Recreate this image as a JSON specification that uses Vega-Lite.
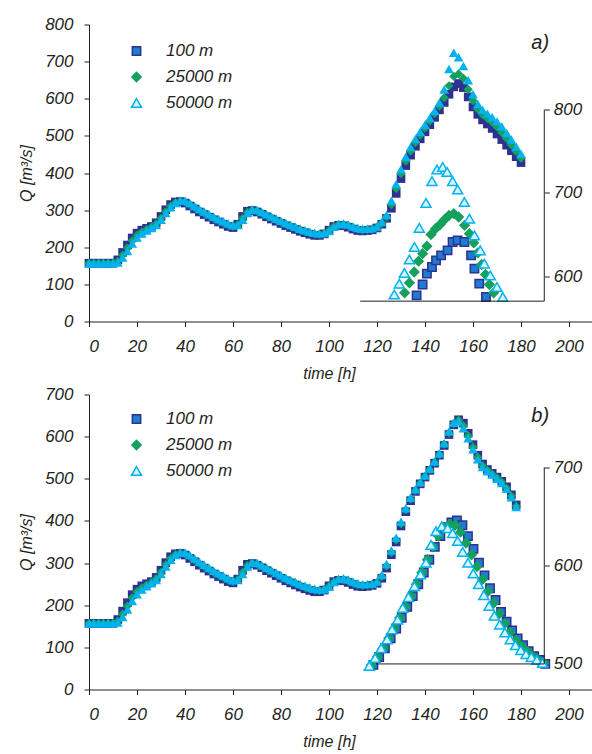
{
"$schema":"https://vega.github.io/schema/vega-lite/v6.json",
"background":"white",
"padding":{"left":18,"top":15.5,"right":0,"bottom":0},
"spacing":4,
"datasets":{
"ma":[
{"s":"100 m","t":0,"q":157},{"s":"100 m","t":2,"q":157},{"s":"100 m","t":4,"q":157},{"s":"100 m","t":6,"q":157},{"s":"100 m","t":8,"q":157},{"s":"100 m","t":10,"q":157},{"s":"100 m","t":12,"q":166},{"s":"100 m","t":14,"q":186},{"s":"100 m","t":16,"q":206},{"s":"100 m","t":18,"q":225},{"s":"100 m","t":20,"q":238},{"s":"100 m","t":22,"q":246},{"s":"100 m","t":24,"q":251},{"s":"100 m","t":26,"q":256},{"s":"100 m","t":28,"q":266},{"s":"100 m","t":30,"q":283},{"s":"100 m","t":32,"q":301},{"s":"100 m","t":34,"q":315},{"s":"100 m","t":36,"q":322},{"s":"100 m","t":38,"q":323},{"s":"100 m","t":40,"q":319},{"s":"100 m","t":42,"q":311},{"s":"100 m","t":44,"q":303},{"s":"100 m","t":46,"q":295},{"s":"100 m","t":48,"q":288},{"s":"100 m","t":50,"q":281},{"s":"100 m","t":52,"q":274},{"s":"100 m","t":54,"q":268},{"s":"100 m","t":56,"q":262},{"s":"100 m","t":58,"q":256},{"s":"100 m","t":60,"q":253},{"s":"100 m","t":62,"q":262},{"s":"100 m","t":64,"q":283},{"s":"100 m","t":66,"q":297},{"s":"100 m","t":68,"q":299},{"s":"100 m","t":70,"q":295},{"s":"100 m","t":72,"q":289},{"s":"100 m","t":74,"q":282},{"s":"100 m","t":76,"q":276},{"s":"100 m","t":78,"q":270},{"s":"100 m","t":80,"q":264},{"s":"100 m","t":82,"q":258},{"s":"100 m","t":84,"q":253},{"s":"100 m","t":86,"q":248},{"s":"100 m","t":88,"q":243},{"s":"100 m","t":90,"q":239},{"s":"100 m","t":92,"q":235},{"s":"100 m","t":94,"q":232},{"s":"100 m","t":96,"q":232},{"s":"100 m","t":98,"q":236},{"s":"100 m","t":100,"q":246},{"s":"100 m","t":102,"q":256},{"s":"100 m","t":104,"q":259},{"s":"100 m","t":106,"q":258},{"s":"100 m","t":108,"q":254},{"s":"100 m","t":110,"q":249},{"s":"100 m","t":112,"q":245},{"s":"100 m","t":114,"q":244},{"s":"100 m","t":116,"q":245},{"s":"100 m","t":118,"q":247},{"s":"100 m","t":120,"q":252},{"s":"100 m","t":122,"q":262},{"s":"100 m","t":124,"q":278},{"s":"100 m","t":126,"q":305},{"s":"100 m","t":128,"q":345},{"s":"100 m","t":130,"q":385},{"s":"100 m","t":132,"q":420},{"s":"100 m","t":134,"q":448},{"s":"100 m","t":136,"q":472},{"s":"100 m","t":138,"q":492},{"s":"100 m","t":140,"q":511},{"s":"100 m","t":142,"q":530},{"s":"100 m","t":144,"q":550},{"s":"100 m","t":146,"q":570},{"s":"100 m","t":148,"q":590},{"s":"100 m","t":150,"q":612},{"s":"100 m","t":152,"q":632},{"s":"100 m","t":154,"q":641},{"s":"100 m","t":156,"q":630},{"s":"100 m","t":158,"q":605},{"s":"100 m","t":160,"q":578},{"s":"100 m","t":162,"q":558},{"s":"100 m","t":164,"q":543},{"s":"100 m","t":166,"q":532},{"s":"100 m","t":168,"q":520},{"s":"100 m","t":170,"q":505},{"s":"100 m","t":172,"q":490},{"s":"100 m","t":174,"q":475},{"s":"100 m","t":176,"q":460},{"s":"100 m","t":178,"q":444},{"s":"100 m","t":180,"q":428},
{"s":"25000 m","t":0,"q":157},{"s":"25000 m","t":2,"q":157},{"s":"25000 m","t":4,"q":157},{"s":"25000 m","t":6,"q":157},{"s":"25000 m","t":8,"q":157},{"s":"25000 m","t":10,"q":157},{"s":"25000 m","t":12,"q":162},{"s":"25000 m","t":14,"q":179},{"s":"25000 m","t":16,"q":198},{"s":"25000 m","t":18,"q":218},{"s":"25000 m","t":20,"q":232},{"s":"25000 m","t":22,"q":241},{"s":"25000 m","t":24,"q":248},{"s":"25000 m","t":26,"q":254},{"s":"25000 m","t":28,"q":263},{"s":"25000 m","t":30,"q":278},{"s":"25000 m","t":32,"q":296},{"s":"25000 m","t":34,"q":311},{"s":"25000 m","t":36,"q":320},{"s":"25000 m","t":38,"q":324},{"s":"25000 m","t":40,"q":322},{"s":"25000 m","t":42,"q":315},{"s":"25000 m","t":44,"q":307},{"s":"25000 m","t":46,"q":299},{"s":"25000 m","t":48,"q":292},{"s":"25000 m","t":50,"q":285},{"s":"25000 m","t":52,"q":278},{"s":"25000 m","t":54,"q":272},{"s":"25000 m","t":56,"q":266},{"s":"25000 m","t":58,"q":260},{"s":"25000 m","t":60,"q":256},{"s":"25000 m","t":62,"q":261},{"s":"25000 m","t":64,"q":278},{"s":"25000 m","t":66,"q":294},{"s":"25000 m","t":68,"q":300},{"s":"25000 m","t":70,"q":298},{"s":"25000 m","t":72,"q":292},{"s":"25000 m","t":74,"q":286},{"s":"25000 m","t":76,"q":280},{"s":"25000 m","t":78,"q":274},{"s":"25000 m","t":80,"q":268},{"s":"25000 m","t":82,"q":262},{"s":"25000 m","t":84,"q":257},{"s":"25000 m","t":86,"q":252},{"s":"25000 m","t":88,"q":247},{"s":"25000 m","t":90,"q":243},{"s":"25000 m","t":92,"q":239},{"s":"25000 m","t":94,"q":236},{"s":"25000 m","t":96,"q":235},{"s":"25000 m","t":98,"q":237},{"s":"25000 m","t":100,"q":245},{"s":"25000 m","t":102,"q":255},{"s":"25000 m","t":104,"q":261},{"s":"25000 m","t":106,"q":261},{"s":"25000 m","t":108,"q":258},{"s":"25000 m","t":110,"q":253},{"s":"25000 m","t":112,"q":249},{"s":"25000 m","t":114,"q":247},{"s":"25000 m","t":116,"q":248},{"s":"25000 m","t":118,"q":249},{"s":"25000 m","t":120,"q":254},{"s":"25000 m","t":122,"q":265},{"s":"25000 m","t":124,"q":282},{"s":"25000 m","t":126,"q":315},{"s":"25000 m","t":128,"q":358},{"s":"25000 m","t":130,"q":398},{"s":"25000 m","t":132,"q":432},{"s":"25000 m","t":134,"q":459},{"s":"25000 m","t":136,"q":482},{"s":"25000 m","t":138,"q":502},{"s":"25000 m","t":140,"q":521},{"s":"25000 m","t":142,"q":540},{"s":"25000 m","t":144,"q":560},{"s":"25000 m","t":146,"q":580},{"s":"25000 m","t":148,"q":603},{"s":"25000 m","t":150,"q":635},{"s":"25000 m","t":152,"q":660},{"s":"25000 m","t":154,"q":667},{"s":"25000 m","t":156,"q":655},{"s":"25000 m","t":158,"q":625},{"s":"25000 m","t":160,"q":595},{"s":"25000 m","t":162,"q":572},{"s":"25000 m","t":164,"q":557},{"s":"25000 m","t":166,"q":547},{"s":"25000 m","t":168,"q":537},{"s":"25000 m","t":170,"q":524},{"s":"25000 m","t":172,"q":509},{"s":"25000 m","t":174,"q":493},{"s":"25000 m","t":176,"q":476},{"s":"25000 m","t":178,"q":458},{"s":"25000 m","t":180,"q":440},
{"s":"50000 m","t":0,"q":157},{"s":"50000 m","t":2,"q":157},{"s":"50000 m","t":4,"q":157},{"s":"50000 m","t":6,"q":157},{"s":"50000 m","t":8,"q":157},{"s":"50000 m","t":10,"q":157},{"s":"50000 m","t":12,"q":159},{"s":"50000 m","t":14,"q":172},{"s":"50000 m","t":16,"q":190},{"s":"50000 m","t":18,"q":210},{"s":"50000 m","t":20,"q":226},{"s":"50000 m","t":22,"q":237},{"s":"50000 m","t":24,"q":245},{"s":"50000 m","t":26,"q":252},{"s":"50000 m","t":28,"q":260},{"s":"50000 m","t":30,"q":274},{"s":"50000 m","t":32,"q":292},{"s":"50000 m","t":34,"q":308},{"s":"50000 m","t":36,"q":319},{"s":"50000 m","t":38,"q":325},{"s":"50000 m","t":40,"q":325},{"s":"50000 m","t":42,"q":319},{"s":"50000 m","t":44,"q":311},{"s":"50000 m","t":46,"q":303},{"s":"50000 m","t":48,"q":296},{"s":"50000 m","t":50,"q":289},{"s":"50000 m","t":52,"q":282},{"s":"50000 m","t":54,"q":276},{"s":"50000 m","t":56,"q":270},{"s":"50000 m","t":58,"q":264},{"s":"50000 m","t":60,"q":259},{"s":"50000 m","t":62,"q":260},{"s":"50000 m","t":64,"q":274},{"s":"50000 m","t":66,"q":292},{"s":"50000 m","t":68,"q":301},{"s":"50000 m","t":70,"q":300},{"s":"50000 m","t":72,"q":295},{"s":"50000 m","t":74,"q":289},{"s":"50000 m","t":76,"q":283},{"s":"50000 m","t":78,"q":277},{"s":"50000 m","t":80,"q":271},{"s":"50000 m","t":82,"q":265},{"s":"50000 m","t":84,"q":260},{"s":"50000 m","t":86,"q":255},{"s":"50000 m","t":88,"q":250},{"s":"50000 m","t":90,"q":246},{"s":"50000 m","t":92,"q":242},{"s":"50000 m","t":94,"q":239},{"s":"50000 m","t":96,"q":237},{"s":"50000 m","t":98,"q":238},{"s":"50000 m","t":100,"q":244},{"s":"50000 m","t":102,"q":255},{"s":"50000 m","t":104,"q":262},{"s":"50000 m","t":106,"q":264},{"s":"50000 m","t":108,"q":261},{"s":"50000 m","t":110,"q":256},{"s":"50000 m","t":112,"q":252},{"s":"50000 m","t":114,"q":250},{"s":"50000 m","t":116,"q":250},{"s":"50000 m","t":118,"q":251},{"s":"50000 m","t":120,"q":255},{"s":"50000 m","t":122,"q":268},{"s":"50000 m","t":124,"q":287},{"s":"50000 m","t":126,"q":325},{"s":"50000 m","t":128,"q":370},{"s":"50000 m","t":130,"q":410},{"s":"50000 m","t":132,"q":444},{"s":"50000 m","t":134,"q":470},{"s":"50000 m","t":136,"q":492},{"s":"50000 m","t":138,"q":511},{"s":"50000 m","t":140,"q":530},{"s":"50000 m","t":142,"q":548},{"s":"50000 m","t":144,"q":567},{"s":"50000 m","t":146,"q":590},{"s":"50000 m","t":148,"q":625},{"s":"50000 m","t":150,"q":680},{"s":"50000 m","t":152,"q":724},{"s":"50000 m","t":154,"q":712},{"s":"50000 m","t":156,"q":688},{"s":"50000 m","t":158,"q":650},{"s":"50000 m","t":160,"q":612},{"s":"50000 m","t":162,"q":586},{"s":"50000 m","t":164,"q":570},{"s":"50000 m","t":166,"q":560},{"s":"50000 m","t":168,"q":550},{"s":"50000 m","t":170,"q":539},{"s":"50000 m","t":172,"q":525},{"s":"50000 m","t":174,"q":508},{"s":"50000 m","t":176,"q":490},{"s":"50000 m","t":178,"q":471},{"s":"50000 m","t":180,"q":452}
],
"ia":[
{"s":"100 m","t":136.5,"q":577},{"s":"100 m","t":139,"q":590},{"s":"100 m","t":140.8,"q":603},{"s":"100 m","t":142.9,"q":611},{"s":"100 m","t":144.6,"q":619},{"s":"100 m","t":146.7,"q":625},{"s":"100 m","t":149.4,"q":631},{"s":"100 m","t":151.5,"q":641},{"s":"100 m","t":153.6,"q":643},{"s":"100 m","t":156.4,"q":641},{"s":"100 m","t":159.2,"q":625},{"s":"100 m","t":160.6,"q":609},{"s":"100 m","t":162.6,"q":591},{"s":"100 m","t":165.4,"q":575},
{"s":"25000 m","t":131.5,"q":580},{"s":"25000 m","t":133.5,"q":592},{"s":"25000 m","t":135.5,"q":605},{"s":"25000 m","t":137.3,"q":618},{"s":"25000 m","t":139,"q":627},{"s":"25000 m","t":140.8,"q":636},{"s":"25000 m","t":142.5,"q":650},{"s":"25000 m","t":144.4,"q":657},{"s":"25000 m","t":146.3,"q":662},{"s":"25000 m","t":148.2,"q":668},{"s":"25000 m","t":150,"q":673},{"s":"25000 m","t":152,"q":675},{"s":"25000 m","t":154,"q":671},{"s":"25000 m","t":156.5,"q":661},{"s":"25000 m","t":158.5,"q":651},{"s":"25000 m","t":160.3,"q":640},{"s":"25000 m","t":162,"q":628},{"s":"25000 m","t":163.6,"q":614},{"s":"25000 m","t":165.2,"q":602},{"s":"25000 m","t":166.8,"q":590},{"s":"25000 m","t":168.6,"q":580},
{"s":"50000 m","t":127.2,"q":578},{"s":"50000 m","t":129.3,"q":591},{"s":"50000 m","t":131.4,"q":604},{"s":"50000 m","t":133.5,"q":620},{"s":"50000 m","t":135.6,"q":635},{"s":"50000 m","t":137.6,"q":658},{"s":"50000 m","t":140.4,"q":688},{"s":"50000 m","t":142.9,"q":714},{"s":"50000 m","t":145,"q":728},{"s":"50000 m","t":147.4,"q":731},{"s":"50000 m","t":149.2,"q":725},{"s":"50000 m","t":151.5,"q":714},{"s":"50000 m","t":153.6,"q":704},{"s":"50000 m","t":156.4,"q":689},{"s":"50000 m","t":158.5,"q":669},{"s":"50000 m","t":160.6,"q":649},{"s":"50000 m","t":163,"q":631},{"s":"50000 m","t":164.7,"q":615},{"s":"50000 m","t":167.2,"q":601},{"s":"50000 m","t":170,"q":587},{"s":"50000 m","t":172.4,"q":575}
],
"mb":[
{"s":"100 m","t":0,"q":157},{"s":"100 m","t":2,"q":157},{"s":"100 m","t":4,"q":157},{"s":"100 m","t":6,"q":157},{"s":"100 m","t":8,"q":157},{"s":"100 m","t":10,"q":157},{"s":"100 m","t":12,"q":166},{"s":"100 m","t":14,"q":186},{"s":"100 m","t":16,"q":206},{"s":"100 m","t":18,"q":225},{"s":"100 m","t":20,"q":238},{"s":"100 m","t":22,"q":246},{"s":"100 m","t":24,"q":251},{"s":"100 m","t":26,"q":256},{"s":"100 m","t":28,"q":266},{"s":"100 m","t":30,"q":283},{"s":"100 m","t":32,"q":301},{"s":"100 m","t":34,"q":315},{"s":"100 m","t":36,"q":322},{"s":"100 m","t":38,"q":323},{"s":"100 m","t":40,"q":319},{"s":"100 m","t":42,"q":311},{"s":"100 m","t":44,"q":303},{"s":"100 m","t":46,"q":295},{"s":"100 m","t":48,"q":288},{"s":"100 m","t":50,"q":281},{"s":"100 m","t":52,"q":274},{"s":"100 m","t":54,"q":268},{"s":"100 m","t":56,"q":262},{"s":"100 m","t":58,"q":256},{"s":"100 m","t":60,"q":253},{"s":"100 m","t":62,"q":262},{"s":"100 m","t":64,"q":283},{"s":"100 m","t":66,"q":297},{"s":"100 m","t":68,"q":299},{"s":"100 m","t":70,"q":295},{"s":"100 m","t":72,"q":289},{"s":"100 m","t":74,"q":282},{"s":"100 m","t":76,"q":276},{"s":"100 m","t":78,"q":270},{"s":"100 m","t":80,"q":264},{"s":"100 m","t":82,"q":258},{"s":"100 m","t":84,"q":253},{"s":"100 m","t":86,"q":248},{"s":"100 m","t":88,"q":243},{"s":"100 m","t":90,"q":239},{"s":"100 m","t":92,"q":235},{"s":"100 m","t":94,"q":232},{"s":"100 m","t":96,"q":232},{"s":"100 m","t":98,"q":236},{"s":"100 m","t":100,"q":246},{"s":"100 m","t":102,"q":256},{"s":"100 m","t":104,"q":259},{"s":"100 m","t":106,"q":258},{"s":"100 m","t":108,"q":254},{"s":"100 m","t":110,"q":249},{"s":"100 m","t":112,"q":245},{"s":"100 m","t":114,"q":244},{"s":"100 m","t":116,"q":245},{"s":"100 m","t":118,"q":247},{"s":"100 m","t":120,"q":252},{"s":"100 m","t":122,"q":264},{"s":"100 m","t":124,"q":288},{"s":"100 m","t":126,"q":320},{"s":"100 m","t":128,"q":350},{"s":"100 m","t":130,"q":388},{"s":"100 m","t":132,"q":422},{"s":"100 m","t":134,"q":448},{"s":"100 m","t":136,"q":470},{"s":"100 m","t":138,"q":488},{"s":"100 m","t":140,"q":504},{"s":"100 m","t":142,"q":520},{"s":"100 m","t":144,"q":537},{"s":"100 m","t":146,"q":556},{"s":"100 m","t":148,"q":579},{"s":"100 m","t":150,"q":605},{"s":"100 m","t":152,"q":628},{"s":"100 m","t":154,"q":640},{"s":"100 m","t":156,"q":632},{"s":"100 m","t":158,"q":608},{"s":"100 m","t":160,"q":581},{"s":"100 m","t":162,"q":556},{"s":"100 m","t":164,"q":535},{"s":"100 m","t":166,"q":522},{"s":"100 m","t":168,"q":513},{"s":"100 m","t":170,"q":504},{"s":"100 m","t":172,"q":494},{"s":"100 m","t":174,"q":481},{"s":"100 m","t":176,"q":462},{"s":"100 m","t":178,"q":438},
{"s":"25000 m","t":0,"q":157},{"s":"25000 m","t":2,"q":157},{"s":"25000 m","t":4,"q":157},{"s":"25000 m","t":6,"q":157},{"s":"25000 m","t":8,"q":157},{"s":"25000 m","t":10,"q":157},{"s":"25000 m","t":12,"q":162},{"s":"25000 m","t":14,"q":179},{"s":"25000 m","t":16,"q":198},{"s":"25000 m","t":18,"q":218},{"s":"25000 m","t":20,"q":232},{"s":"25000 m","t":22,"q":241},{"s":"25000 m","t":24,"q":248},{"s":"25000 m","t":26,"q":254},{"s":"25000 m","t":28,"q":263},{"s":"25000 m","t":30,"q":278},{"s":"25000 m","t":32,"q":296},{"s":"25000 m","t":34,"q":311},{"s":"25000 m","t":36,"q":320},{"s":"25000 m","t":38,"q":324},{"s":"25000 m","t":40,"q":322},{"s":"25000 m","t":42,"q":315},{"s":"25000 m","t":44,"q":307},{"s":"25000 m","t":46,"q":299},{"s":"25000 m","t":48,"q":292},{"s":"25000 m","t":50,"q":285},{"s":"25000 m","t":52,"q":278},{"s":"25000 m","t":54,"q":272},{"s":"25000 m","t":56,"q":266},{"s":"25000 m","t":58,"q":260},{"s":"25000 m","t":60,"q":256},{"s":"25000 m","t":62,"q":261},{"s":"25000 m","t":64,"q":278},{"s":"25000 m","t":66,"q":294},{"s":"25000 m","t":68,"q":300},{"s":"25000 m","t":70,"q":298},{"s":"25000 m","t":72,"q":292},{"s":"25000 m","t":74,"q":286},{"s":"25000 m","t":76,"q":280},{"s":"25000 m","t":78,"q":274},{"s":"25000 m","t":80,"q":268},{"s":"25000 m","t":82,"q":262},{"s":"25000 m","t":84,"q":257},{"s":"25000 m","t":86,"q":252},{"s":"25000 m","t":88,"q":247},{"s":"25000 m","t":90,"q":243},{"s":"25000 m","t":92,"q":239},{"s":"25000 m","t":94,"q":236},{"s":"25000 m","t":96,"q":235},{"s":"25000 m","t":98,"q":237},{"s":"25000 m","t":100,"q":245},{"s":"25000 m","t":102,"q":255},{"s":"25000 m","t":104,"q":261},{"s":"25000 m","t":106,"q":261},{"s":"25000 m","t":108,"q":258},{"s":"25000 m","t":110,"q":253},{"s":"25000 m","t":112,"q":249},{"s":"25000 m","t":114,"q":247},{"s":"25000 m","t":116,"q":248},{"s":"25000 m","t":118,"q":249},{"s":"25000 m","t":120,"q":254},{"s":"25000 m","t":122,"q":268},{"s":"25000 m","t":124,"q":293},{"s":"25000 m","t":126,"q":325},{"s":"25000 m","t":128,"q":355},{"s":"25000 m","t":130,"q":393},{"s":"25000 m","t":132,"q":426},{"s":"25000 m","t":134,"q":452},{"s":"25000 m","t":136,"q":473},{"s":"25000 m","t":138,"q":490},{"s":"25000 m","t":140,"q":506},{"s":"25000 m","t":142,"q":522},{"s":"25000 m","t":144,"q":539},{"s":"25000 m","t":146,"q":558},{"s":"25000 m","t":148,"q":582},{"s":"25000 m","t":150,"q":609},{"s":"25000 m","t":152,"q":631},{"s":"25000 m","t":154,"q":639},{"s":"25000 m","t":156,"q":626},{"s":"25000 m","t":158,"q":602},{"s":"25000 m","t":160,"q":575},{"s":"25000 m","t":162,"q":551},{"s":"25000 m","t":164,"q":531},{"s":"25000 m","t":166,"q":520},{"s":"25000 m","t":168,"q":511},{"s":"25000 m","t":170,"q":502},{"s":"25000 m","t":172,"q":492},{"s":"25000 m","t":174,"q":478},{"s":"25000 m","t":176,"q":459},{"s":"25000 m","t":178,"q":435},
{"s":"50000 m","t":0,"q":157},{"s":"50000 m","t":2,"q":157},{"s":"50000 m","t":4,"q":157},{"s":"50000 m","t":6,"q":157},{"s":"50000 m","t":8,"q":157},{"s":"50000 m","t":10,"q":157},{"s":"50000 m","t":12,"q":159},{"s":"50000 m","t":14,"q":172},{"s":"50000 m","t":16,"q":190},{"s":"50000 m","t":18,"q":210},{"s":"50000 m","t":20,"q":226},{"s":"50000 m","t":22,"q":237},{"s":"50000 m","t":24,"q":245},{"s":"50000 m","t":26,"q":252},{"s":"50000 m","t":28,"q":260},{"s":"50000 m","t":30,"q":274},{"s":"50000 m","t":32,"q":292},{"s":"50000 m","t":34,"q":308},{"s":"50000 m","t":36,"q":319},{"s":"50000 m","t":38,"q":325},{"s":"50000 m","t":40,"q":325},{"s":"50000 m","t":42,"q":319},{"s":"50000 m","t":44,"q":311},{"s":"50000 m","t":46,"q":303},{"s":"50000 m","t":48,"q":296},{"s":"50000 m","t":50,"q":289},{"s":"50000 m","t":52,"q":282},{"s":"50000 m","t":54,"q":276},{"s":"50000 m","t":56,"q":270},{"s":"50000 m","t":58,"q":264},{"s":"50000 m","t":60,"q":259},{"s":"50000 m","t":62,"q":260},{"s":"50000 m","t":64,"q":274},{"s":"50000 m","t":66,"q":292},{"s":"50000 m","t":68,"q":301},{"s":"50000 m","t":70,"q":300},{"s":"50000 m","t":72,"q":295},{"s":"50000 m","t":74,"q":289},{"s":"50000 m","t":76,"q":283},{"s":"50000 m","t":78,"q":277},{"s":"50000 m","t":80,"q":271},{"s":"50000 m","t":82,"q":265},{"s":"50000 m","t":84,"q":260},{"s":"50000 m","t":86,"q":255},{"s":"50000 m","t":88,"q":250},{"s":"50000 m","t":90,"q":246},{"s":"50000 m","t":92,"q":242},{"s":"50000 m","t":94,"q":239},{"s":"50000 m","t":96,"q":237},{"s":"50000 m","t":98,"q":238},{"s":"50000 m","t":100,"q":244},{"s":"50000 m","t":102,"q":255},{"s":"50000 m","t":104,"q":262},{"s":"50000 m","t":106,"q":264},{"s":"50000 m","t":108,"q":261},{"s":"50000 m","t":110,"q":256},{"s":"50000 m","t":112,"q":252},{"s":"50000 m","t":114,"q":250},{"s":"50000 m","t":116,"q":250},{"s":"50000 m","t":118,"q":251},{"s":"50000 m","t":120,"q":256},{"s":"50000 m","t":122,"q":272},{"s":"50000 m","t":124,"q":298},{"s":"50000 m","t":126,"q":330},{"s":"50000 m","t":128,"q":360},{"s":"50000 m","t":130,"q":398},{"s":"50000 m","t":132,"q":430},{"s":"50000 m","t":134,"q":455},{"s":"50000 m","t":136,"q":475},{"s":"50000 m","t":138,"q":492},{"s":"50000 m","t":140,"q":508},{"s":"50000 m","t":142,"q":524},{"s":"50000 m","t":144,"q":541},{"s":"50000 m","t":146,"q":560},{"s":"50000 m","t":148,"q":584},{"s":"50000 m","t":150,"q":612},{"s":"50000 m","t":152,"q":633},{"s":"50000 m","t":154,"q":637},{"s":"50000 m","t":156,"q":620},{"s":"50000 m","t":158,"q":596},{"s":"50000 m","t":160,"q":570},{"s":"50000 m","t":162,"q":546},{"s":"50000 m","t":164,"q":528},{"s":"50000 m","t":166,"q":518},{"s":"50000 m","t":168,"q":510},{"s":"50000 m","t":170,"q":500},{"s":"50000 m","t":172,"q":490},{"s":"50000 m","t":174,"q":476},{"s":"50000 m","t":176,"q":456},{"s":"50000 m","t":178,"q":433}
],
"ib":[
{"s":"100 m","t":118.5,"q":499},{"s":"100 m","t":120.9,"q":507},{"s":"100 m","t":123.3,"q":516},{"s":"100 m","t":125.7,"q":526},{"s":"100 m","t":128,"q":536},{"s":"100 m","t":130.3,"q":547},{"s":"100 m","t":132.6,"q":558},{"s":"100 m","t":134.9,"q":569},{"s":"100 m","t":137.2,"q":581},{"s":"100 m","t":139.5,"q":593},{"s":"100 m","t":141.8,"q":606},{"s":"100 m","t":144.1,"q":619},{"s":"100 m","t":146.4,"q":630},{"s":"100 m","t":148.7,"q":639},{"s":"100 m","t":151,"q":644},{"s":"100 m","t":153.3,"q":646},{"s":"100 m","t":155.6,"q":641},{"s":"100 m","t":157.9,"q":630},{"s":"100 m","t":160.2,"q":617},{"s":"100 m","t":162.5,"q":603},{"s":"100 m","t":164.8,"q":590},{"s":"100 m","t":167.1,"q":577},{"s":"100 m","t":169.4,"q":565},{"s":"100 m","t":171.7,"q":553},{"s":"100 m","t":174,"q":543},{"s":"100 m","t":176.3,"q":534},{"s":"100 m","t":178.6,"q":526},{"s":"100 m","t":180.9,"q":519},{"s":"100 m","t":183.2,"q":513},{"s":"100 m","t":185.5,"q":508},{"s":"100 m","t":187.8,"q":504},{"s":"100 m","t":190.1,"q":500},
{"s":"25000 m","t":117.7,"q":499},{"s":"25000 m","t":120.1,"q":507},{"s":"25000 m","t":122.5,"q":516},{"s":"25000 m","t":124.9,"q":526},{"s":"25000 m","t":127.2,"q":536},{"s":"25000 m","t":129.5,"q":547},{"s":"25000 m","t":131.8,"q":558},{"s":"25000 m","t":134.1,"q":569},{"s":"25000 m","t":136.4,"q":581},{"s":"25000 m","t":138.7,"q":593},{"s":"25000 m","t":141,"q":606},{"s":"25000 m","t":143.3,"q":619},{"s":"25000 m","t":145.6,"q":630},{"s":"25000 m","t":147.9,"q":638},{"s":"25000 m","t":150.2,"q":642},{"s":"25000 m","t":152.5,"q":641},{"s":"25000 m","t":154.8,"q":634},{"s":"25000 m","t":157.1,"q":623},{"s":"25000 m","t":159.4,"q":611},{"s":"25000 m","t":161.7,"q":599},{"s":"25000 m","t":164,"q":586},{"s":"25000 m","t":166.3,"q":574},{"s":"25000 m","t":168.6,"q":562},{"s":"25000 m","t":170.9,"q":551},{"s":"25000 m","t":173.2,"q":541},{"s":"25000 m","t":175.5,"q":532},{"s":"25000 m","t":177.8,"q":524},{"s":"25000 m","t":180.1,"q":518},{"s":"25000 m","t":182.4,"q":513},{"s":"25000 m","t":184.7,"q":508},{"s":"25000 m","t":187,"q":504},{"s":"25000 m","t":189.4,"q":501},
{"s":"50000 m","t":116.8,"q":498},{"s":"50000 m","t":119.2,"q":506},{"s":"50000 m","t":121.7,"q":516},{"s":"50000 m","t":124.2,"q":525},{"s":"50000 m","t":126.3,"q":535},{"s":"50000 m","t":128.6,"q":545},{"s":"50000 m","t":130.7,"q":557},{"s":"50000 m","t":133.1,"q":568},{"s":"50000 m","t":135.6,"q":579},{"s":"50000 m","t":138.1,"q":591},{"s":"50000 m","t":140.4,"q":603},{"s":"50000 m","t":142.5,"q":621},{"s":"50000 m","t":144.6,"q":635},{"s":"50000 m","t":147,"q":640},{"s":"50000 m","t":149.4,"q":638},{"s":"50000 m","t":151.5,"q":633},{"s":"50000 m","t":153.6,"q":625},{"s":"50000 m","t":155.7,"q":614},{"s":"50000 m","t":157.9,"q":603},{"s":"50000 m","t":160.1,"q":592},{"s":"50000 m","t":162.3,"q":581},{"s":"50000 m","t":164.5,"q":570},{"s":"50000 m","t":166.7,"q":559},{"s":"50000 m","t":168.9,"q":549},{"s":"50000 m","t":171.1,"q":540},{"s":"50000 m","t":173.3,"q":532},{"s":"50000 m","t":175.5,"q":525},{"s":"50000 m","t":177.7,"q":519},{"s":"50000 m","t":179.9,"q":514},{"s":"50000 m","t":182.1,"q":510},{"s":"50000 m","t":184.3,"q":507},{"s":"50000 m","t":186.6,"q":504},{"s":"50000 m","t":189,"q":501}
]
},
"vconcat":[
{
"width":504,"height":297,
"layer":[
{"data":{"name":"ma"},"layer":[
{"mark":{"type":"point","filled":true,"opacity":1},
"encoding":{
"x":{"field":"t","type":"quantitative","scale":{"domain":[0,210],"nice":false},"axis":{"values":[0,20,40,60,80,100,120,140,160,180,200],"title":"time [h]","labelPadding":12,"titlePadding":11,"titleX":240}},
"y":{"field":"q","type":"quantitative","scale":{"domain":[0,800],"nice":false},"axis":{"values":[0,100,200,300,400,500,600,700,800],"title":"Q [m³/s]","labelPadding":11,"titlePadding":10}},
"color":{"field":"s","type":"nominal","scale":{"domain":["100 m","25000 m","50000 m"],"range":["#2e3192","#16a05d","#00b2ee"]},"legend":null},
"shape":{"field":"s","type":"nominal","scale":{"domain":["100 m","25000 m","50000 m"],"range":["square","diamond","triangle-up"]},"legend":null},
"size":{"field":"s","type":"nominal","scale":{"domain":["100 m","25000 m","50000 m"],"range":[75,95,105]},"legend":null}
}},
{"data":{"values":[{"label":"a)"}]},"mark":{"type":"text","fontSize":20,"fontStyle":"italic","font":"Liberation Sans","color":"#231f20"},
"encoding":{"text":{"field":"label"},
"x":{"datum":188,"type":"quantitative","axis":{"values":[0,20,40,60,80,100,120,140,160,180,200],"title":"time [h]","labelPadding":12,"titlePadding":11,"titleX":240}},
"y":{"datum":749,"type":"quantitative","axis":{"values":[0,100,200,300,400,500,600,700,800],"title":"Q [m³/s]","labelPadding":11,"titlePadding":10}}}}
]},
{"data":{"name":"ia"},"layer":[
{"mark":{"type":"point","filled":true,"opacity":1,"strokeWidth":1.5},
"encoding":{
"x":{"field":"t","type":"quantitative"},
"y":{"field":"q","type":"quantitative","scale":{"domain":[545.6,902],"nice":false,"zero":false},"axis":{"orient":"right","offset":-48.7,"domain":false,"values":[600,700,800],"tickSize":5,"labelPadding":4,"title":null}},
"fill":{"field":"s","type":"nominal","scale":{"domain":["100 m","25000 m","50000 m"],"range":["#1f7bcf","#16a05d","#d8f3fc"]},"legend":{"orient":"none","legendX":39,"legendY":18,"title":null}},
"stroke":{"field":"s","type":"nominal","scale":{"domain":["100 m","25000 m","50000 m"],"range":["#2e3192","#16a05d","#00b2ee"]},"legend":{"orient":"none","legendX":39,"legendY":18,"title":null}},
"shape":{"field":"s","type":"nominal","scale":{"domain":["100 m","25000 m","50000 m"],"range":["square","diamond","triangle-up"]},"legend":{"orient":"none","legendX":39,"legendY":18,"title":null}},
"size":{"field":"s","type":"nominal","scale":{"domain":["100 m","25000 m","50000 m"],"range":[70,100,85]},"legend":{"orient":"none","legendX":39,"legendY":18,"title":null}}
}},
{"data":{"values":[{}]},"mark":{"type":"rule","color":"#231f20","strokeWidth":1},
"encoding":{"x":{"datum":113,"type":"quantitative"},"x2":{"datum":189.7},"y":{"datum":570,"type":"quantitative"}}},
{"data":{"values":[{}]},"mark":{"type":"rule","color":"#231f20","strokeWidth":1},
"encoding":{"x":{"datum":189.7,"type":"quantitative"},"y":{"datum":570,"type":"quantitative"},"y2":{"datum":800}}}
]}
],
"resolve":{"scale":{"y":"independent","size":"independent","shape":"independent","color":"independent","fill":"independent","stroke":"independent"}}
},
{
"width":504,"height":295,
"layer":[
{"data":{"name":"mb"},"layer":[
{"mark":{"type":"point","filled":true,"opacity":1},
"encoding":{
"x":{"field":"t","type":"quantitative","scale":{"domain":[0,210],"nice":false},"axis":{"values":[0,20,40,60,80,100,120,140,160,180,200],"title":"time [h]","labelPadding":12,"titlePadding":11,"titleX":240}},
"y":{"field":"q","type":"quantitative","scale":{"domain":[0,700],"nice":false},"axis":{"values":[0,100,200,300,400,500,600,700],"title":"Q [m³/s]","labelPadding":11,"titlePadding":10}},
"color":{"field":"s","type":"nominal","scale":{"domain":["100 m","25000 m","50000 m"],"range":["#2e3192","#16a05d","#00b2ee"]},"legend":null},
"shape":{"field":"s","type":"nominal","scale":{"domain":["100 m","25000 m","50000 m"],"range":["square","diamond","triangle-up"]},"legend":null},
"size":{"field":"s","type":"nominal","scale":{"domain":["100 m","25000 m","50000 m"],"range":[75,95,105]},"legend":null}
}},
{"data":{"values":[{"label":"b)"}]},"mark":{"type":"text","fontSize":20,"fontStyle":"italic","font":"Liberation Sans","color":"#231f20"},
"encoding":{"text":{"field":"label"},
"x":{"datum":188,"type":"quantitative","axis":{"values":[0,20,40,60,80,100,120,140,160,180,200],"title":"time [h]","labelPadding":12,"titlePadding":11,"titleX":240}},
"y":{"datum":649,"type":"quantitative","axis":{"values":[0,100,200,300,400,500,600,700],"title":"Q [m³/s]","labelPadding":11,"titlePadding":10}}}}
]},
{"data":{"name":"ib"},"layer":[
{"mark":{"type":"point","filled":true,"opacity":1,"strokeWidth":1.5},
"encoding":{
"x":{"field":"t","type":"quantitative"},
"y":{"field":"q","type":"quantitative","scale":{"domain":[474,774],"nice":false,"zero":false},"axis":{"orient":"right","offset":-48.7,"domain":false,"values":[500,600,700],"tickSize":5,"labelPadding":4,"title":null}},
"fill":{"field":"s","type":"nominal","scale":{"domain":["100 m","25000 m","50000 m"],"range":["#1f7bcf","#16a05d","#d8f3fc"]},"legend":{"orient":"none","legendX":39,"legendY":16,"title":null}},
"stroke":{"field":"s","type":"nominal","scale":{"domain":["100 m","25000 m","50000 m"],"range":["#2e3192","#16a05d","#00b2ee"]},"legend":{"orient":"none","legendX":39,"legendY":16,"title":null}},
"shape":{"field":"s","type":"nominal","scale":{"domain":["100 m","25000 m","50000 m"],"range":["square","diamond","triangle-up"]},"legend":{"orient":"none","legendX":39,"legendY":16,"title":null}},
"size":{"field":"s","type":"nominal","scale":{"domain":["100 m","25000 m","50000 m"],"range":[70,100,85]},"legend":{"orient":"none","legendX":39,"legendY":16,"title":null}}
}},
{"data":{"values":[{}]},"mark":{"type":"rule","color":"#231f20","strokeWidth":1},
"encoding":{"x":{"datum":119.6,"type":"quantitative"},"x2":{"datum":189.7},"y":{"datum":500,"type":"quantitative"}}},
{"data":{"values":[{}]},"mark":{"type":"rule","color":"#231f20","strokeWidth":1},
"encoding":{"x":{"datum":189.7,"type":"quantitative"},"y":{"datum":500,"type":"quantitative"},"y2":{"datum":700}}}
]}
],
"resolve":{"scale":{"y":"independent","size":"independent","shape":"independent","color":"independent","fill":"independent","stroke":"independent"}}
}
],
"config":{
"font":"Liberation Sans",
"view":{"stroke":null},
"axis":{"labelFont":"Liberation Sans","labelFontStyle":"italic","labelFontSize":17,"labelColor":"#231f20","labelOverlap":false,"titleFont":"Liberation Sans","titleFontStyle":"italic","titleFontWeight":"normal","titleFontSize":16,"titleColor":"#231f20","domainColor":"#231f20","tickColor":"#231f20","grid":false,"tickSize":5},
"legend":{"labelFont":"Liberation Sans","labelFontStyle":"italic","labelFontSize":17,"labelColor":"#231f20","symbolSize":100,"symbolStrokeWidth":1.5,"rowPadding":8,"labelOffset":21,"padding":0}
}
}
